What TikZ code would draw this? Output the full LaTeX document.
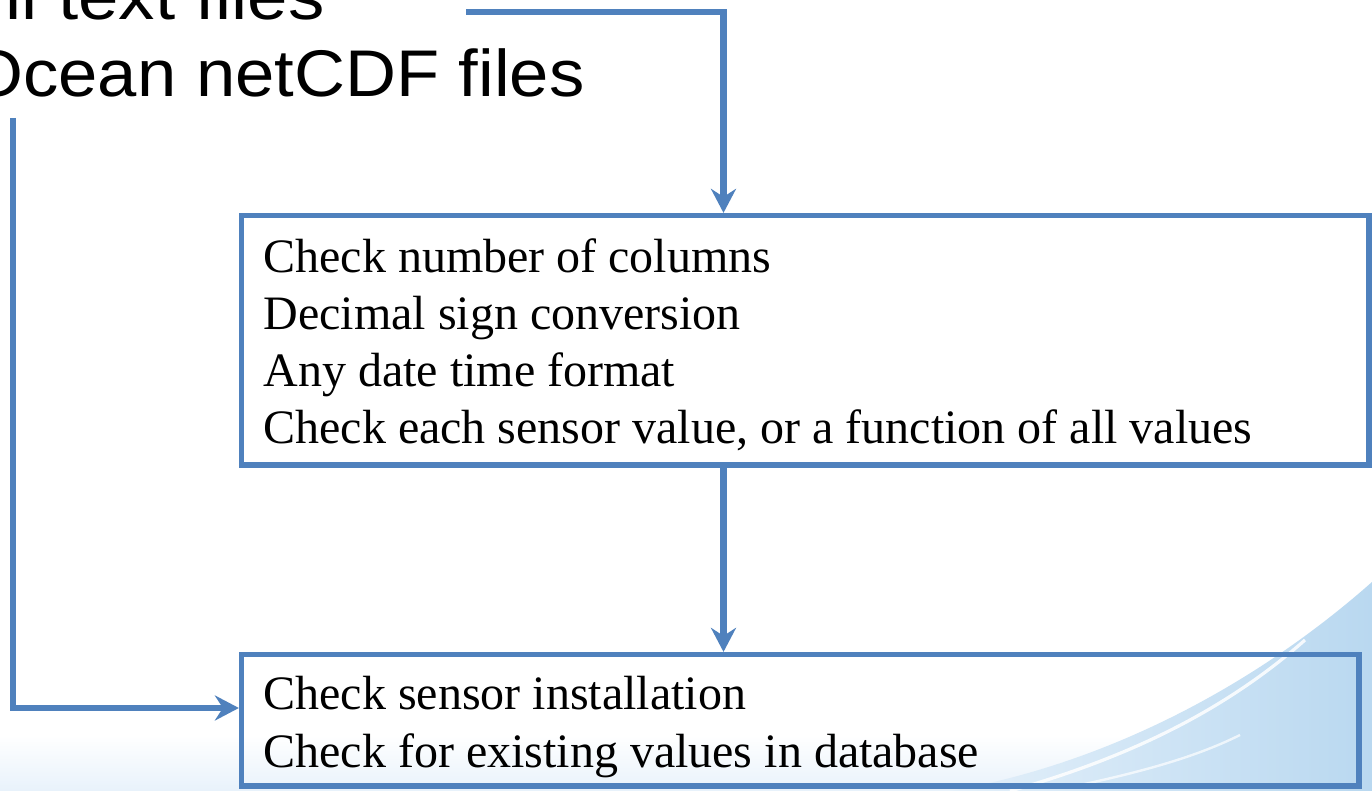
\documentclass[tikz,border=0pt]{standalone}
\usepackage{fontspec}
\setmainfont{Liberation Serif}
\newfontfamily\slidesans{Liberation Sans}
\usetikzlibrary{arrows.meta}

\definecolor{flowblue}{HTML}{4F81BD}
\definecolor{swooshblue}{HTML}{B9D8F0}
\definecolor{swooshpale}{HTML}{E4F0FA}
\definecolor{hazeblue}{HTML}{E8F2FB}

\begin{document}
\begin{tikzpicture}[x=0.5pt,y=-0.5pt,
  conn/.style={draw=flowblue, line width=3.3pt,
    -{Stealth[length=12pt,width=12.5pt,inset=4pt]}},
  stepbox/.style={draw=flowblue, line width=2.6pt, rectangle, inner sep=0pt},
  boxtext/.style={anchor=base west, inner sep=0pt, align=left,
    font=\fontsize{24}{28.6}\selectfont},
  srctext/.style={anchor=base east, inner sep=0pt,
    font=\slidesans\fontsize{33}{38}\selectfont}]

\useasboundingbox (0,0) rectangle (1372,791);
\clip (0,0) rectangle (1372,791);
\fill[white] (0,0) rectangle (1372,791);

% pale haze along the bottom edge
\shade[top color=white, bottom color=hazeblue] (0,735) rectangle (1372,791);

% light blue swoosh in the lower right corner
\shade[left color=swooshpale, right color=swooshblue]
  (950,791) .. controls (1100,765) and (1250,690) .. (1372,582)
  -- (1372,791) -- cycle;
\draw[white, line width=1.6pt, opacity=0.85]
  (1010,791) .. controls (1120,760) and (1220,715) .. (1305,640);
\draw[white, line width=1.2pt, opacity=0.7]
  (1080,785) .. controls (1150,770) and (1200,755) .. (1240,735);

% source file list
\node[srctext] (srcA) at (325,20) {\scalebox{1.1}[1]{ll text files}};
\node[srctext] (srcB) at (585,97) {\scalebox{1.07}[1]{Ocean netCDF files}};

% processing boxes (the base anchor of a multi-line node is its last line)
\node[stepbox, minimum width=563.75pt, minimum height=124.75pt]
  (chk) at (805.25,340.25) {};
\node[boxtext] (chktxt) at (263,444)
  {Check number of columns\\Decimal sign conversion\\Any date time format\\Check each sensor value, or a function of all values};

\node[stepbox, minimum width=558.75pt, minimum height=65.75pt]
  (db) at (800.25,720.25) {};
\node[boxtext] (dbtxt) at (263,767)
  {Check sensor installation\\Check for existing values in database};

% connectors
\coordinate (t0) at (466,12);
\coordinate (t1) at (723.5,12);
\coordinate (mid) at (723.5,0);
\coordinate (l0) at (13,118);
\coordinate (l1) at (13,708);

\draw[conn] (t0) -- (t1) -- (t1 |- chk.north);
\draw[conn] (chk.south -| mid) -- (db.north -| mid);
\draw[conn] (l0) -- (l1) -- (l1 -| db.west);

\end{tikzpicture}
\end{document}
